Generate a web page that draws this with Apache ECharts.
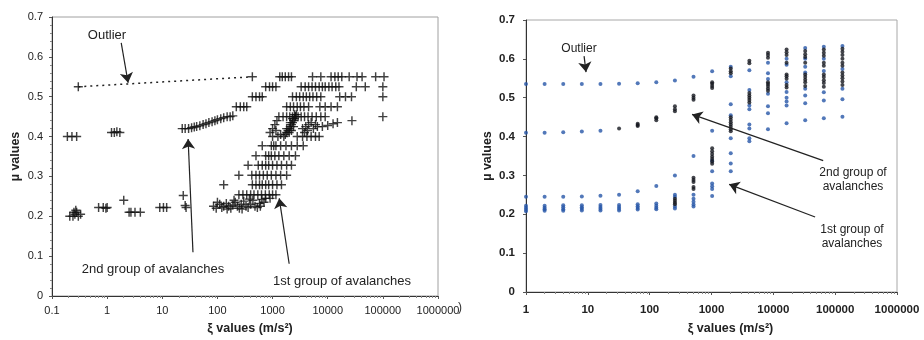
<!DOCTYPE html>
<html>
<head>
<meta charset="utf-8">
<script src="https://cdn.jsdelivr.net/npm/echarts@6/dist/echarts.min.js"></script>
<style>
  html, body { margin: 0; padding: 0; background: #fff; }
  #chart { width: 924px; height: 340px; }
</style>
</head>
<body>
<div id="chart"></div>
<script>
// ---- Left panel: xi / mu pairs for the avalanche runs ----
const leftOutlier = [[0.3, 0.525]];
const leftOutlierLink = [[0.3, 0.525], [430, 0.55]];

const leftLowGroup = [
  [0.21, 0.2], [0.24, 0.2], [0.26, 0.205], [0.28, 0.21], [0.3, 0.2], [0.33, 0.205], [0.25, 0.21], [0.27, 0.215],
  [0.7, 0.222], [0.85, 0.222], [0.95, 0.22], [1.0, 0.222],
  [2.0, 0.24], [2.5, 0.21], [2.7, 0.21], [3.2, 0.21], [4.0, 0.21],
  [9, 0.222], [10.5, 0.222], [12, 0.222],
  [24, 0.252], [26, 0.227], [27, 0.222]
];

const leftSecondGroup = [
  [0.19, 0.4], [0.23, 0.4], [0.28, 0.4],
  [1.2, 0.41], [1.35, 0.41], [1.5, 0.412], [1.7, 0.41],
  [23, 0.42], [26, 0.42], [30, 0.42], [34, 0.422], [38, 0.424], [42, 0.425], [48, 0.427], [55, 0.43],
  [62, 0.432], [70, 0.435], [80, 0.437], [90, 0.44], [100, 0.442], [115, 0.445], [130, 0.447], [150, 0.45],
  [170, 0.45], [190, 0.452],
  [220, 0.475], [260, 0.475], [300, 0.475], [340, 0.475],
  [430, 0.5], [500, 0.5], [580, 0.5], [650, 0.5],
  [750, 0.525], [880, 0.525], [1000, 0.525], [1150, 0.525],
  [430, 0.55], [1350, 0.55], [1500, 0.55], [1700, 0.55], [1950, 0.55], [2200, 0.55]
];

const leftFirstGroup = [
  // mu = 0.55
  [5300, 0.55], [7500, 0.55], [11500, 0.55], [13500, 0.55], [15500, 0.55], [18000, 0.55],
  [24500, 0.55], [34000, 0.55], [42000, 0.55], [74000, 0.55], [105000, 0.55],
  // mu = 0.525
  [3300, 0.525], [3900, 0.525], [4500, 0.525], [5200, 0.525], [6000, 0.525], [7000, 0.525], [8000, 0.525],
  [9000, 0.525], [10500, 0.525], [12000, 0.525], [14000, 0.525], [16000, 0.525], [33000, 0.525],
  [48000, 0.525], [100000, 0.525],
  // mu = 0.50
  [2300, 0.5], [2700, 0.5], [3100, 0.5], [3600, 0.5], [4100, 0.5], [4700, 0.5], [5400, 0.5], [6300, 0.5],
  [7500, 0.5], [16500, 0.5], [21000, 0.5], [27000, 0.5], [100000, 0.5],
  // mu = 0.475
  [1800, 0.475], [2100, 0.475], [2400, 0.475], [2800, 0.475], [3200, 0.475], [3700, 0.475], [4500, 0.475],
  [7200, 0.475], [9000, 0.475], [11500, 0.475], [15000, 0.475],
  // mu = 0.45
  [1300, 0.45], [1550, 0.45], [1800, 0.45], [2050, 0.45], [2300, 0.45], [2600, 0.45], [2900, 0.45],
  [3300, 0.45], [3800, 0.45], [4400, 0.45], [5200, 0.45], [6200, 0.45], [7500, 0.45], [9000, 0.45],
  [27500, 0.44], [100000, 0.45],
  // dense core 0.40 - 0.46
  [1700, 0.405], [1800, 0.41], [1900, 0.415], [2000, 0.42], [2100, 0.425], [2200, 0.43], [2300, 0.435],
  [2400, 0.44], [2500, 0.445], [2600, 0.45], [2700, 0.455], [2000, 0.41], [2200, 0.415], [2400, 0.425],
  [1800, 0.42], [2100, 0.435], [2300, 0.445], [2500, 0.455],
  [3500, 0.42], [4000, 0.425], [4500, 0.43], [5000, 0.435], [3800, 0.41], [4300, 0.415], [5500, 0.42],
  [6500, 0.425], [6000, 0.43],
  [8000, 0.425], [10000, 0.428], [12500, 0.432], [15000, 0.435],
  [900, 0.41], [1000, 0.42], [1100, 0.43], [1200, 0.44], [1000, 0.4], [1250, 0.4], [1400, 0.405], [1150, 0.415],
  [1600, 0.4], [2800, 0.4], [3500, 0.4], [4200, 0.4], [5000, 0.4], [6000, 0.4], [7000, 0.4],
  // mu = 0.375
  [650, 0.377], [950, 0.377], [1050, 0.377], [1150, 0.377], [1400, 0.377], [1750, 0.377], [2200, 0.377],
  [2800, 0.377], [3600, 0.377],
  // mu = 0.35
  [500, 0.352], [750, 0.352], [850, 0.352], [950, 0.352], [1100, 0.352], [1300, 0.352], [1600, 0.352],
  [2000, 0.352], [2600, 0.352],
  // mu = 0.325
  [360, 0.328], [550, 0.328], [650, 0.328], [750, 0.328], [850, 0.328], [1000, 0.328], [1200, 0.328],
  [1450, 0.328], [1800, 0.328], [2200, 0.328],
  // mu = 0.30
  [245, 0.303], [420, 0.303], [500, 0.303], [580, 0.303], [680, 0.303], [800, 0.303], [950, 0.303],
  [1150, 0.303], [1400, 0.303], [1800, 0.303],
  // mu = 0.275
  [130, 0.279], [430, 0.279], [500, 0.279], [580, 0.279], [650, 0.279], [750, 0.279], [850, 0.279],
  [1000, 0.279], [1200, 0.279], [1450, 0.279],
  // mu = 0.25
  [245, 0.254], [290, 0.254], [340, 0.254], [400, 0.254], [460, 0.254], [540, 0.254], [630, 0.254],
  [740, 0.254], [870, 0.254], [1000, 0.254], [1150, 0.254],
  // low band 0.22 - 0.245
  [85, 0.225], [95, 0.22], [110, 0.23], [120, 0.222], [130, 0.225], [145, 0.232], [160, 0.225], [175, 0.22],
  [190, 0.228], [210, 0.235], [230, 0.225], [250, 0.22], [270, 0.23], [300, 0.238], [330, 0.225], [360, 0.222],
  [400, 0.23], [440, 0.24], [480, 0.225], [530, 0.222], [580, 0.232], [640, 0.242], [700, 0.235], [100, 0.235],
  [150, 0.218], [200, 0.24], [280, 0.218], [380, 0.243], [600, 0.225], [750, 0.245], [900, 0.245]
];

// ---- Right panel: mu values computed for each xi step ----
const xiSteps = [1, 2, 4, 8, 16, 32, 64, 128, 256, 512, 1024, 2048, 4096, 8192, 16384, 32768, 65536, 131072];

const muBlue = [
  [0.535, 0.41, 0.245, 0.222, 0.217, 0.212, 0.208],
  [0.535, 0.41, 0.245, 0.222, 0.217, 0.213, 0.209],
  [0.535, 0.411, 0.245, 0.223, 0.218, 0.213, 0.209],
  [0.535, 0.413, 0.246, 0.223, 0.218, 0.214, 0.21],
  [0.535, 0.415, 0.248, 0.224, 0.219, 0.214, 0.21],
  [0.536, 0.25, 0.224, 0.219, 0.214, 0.21],
  [0.537, 0.259, 0.226, 0.221, 0.216, 0.212],
  [0.54, 0.273, 0.228, 0.222, 0.217, 0.213],
  [0.544, 0.30, 0.25, 0.245, 0.22, 0.215],
  [0.554, 0.35, 0.25, 0.24, 0.232, 0.225, 0.22],
  [0.568, 0.415, 0.338, 0.311, 0.279, 0.272, 0.265, 0.247],
  [0.58, 0.555, 0.483, 0.455, 0.396, 0.357, 0.331, 0.311],
  [0.571, 0.52, 0.48, 0.47, 0.431, 0.421, 0.396, 0.388],
  [0.59, 0.563, 0.548, 0.51, 0.478, 0.46, 0.419],
  [0.6, 0.585, 0.54, 0.515, 0.5, 0.49, 0.48, 0.434],
  [0.628, 0.6, 0.58, 0.565, 0.523, 0.506, 0.486, 0.442],
  [0.631, 0.6, 0.569, 0.514, 0.493, 0.447],
  [0.633, 0.574, 0.523, 0.496, 0.451]
];

const muBlack = [
  [],
  [],
  [],
  [],
  [],
  [0.421],
  [0.427, 0.43, 0.433],
  [0.442, 0.447, 0.45],
  [0.465, 0.47, 0.478, 0.24, 0.235, 0.23, 0.226],
  [0.495, 0.5, 0.506, 0.294, 0.288, 0.283, 0.27, 0.265],
  [0.525, 0.53, 0.536, 0.54, 0.37, 0.362, 0.355, 0.348, 0.342, 0.336, 0.33],
  [0.575, 0.568, 0.563, 0.45, 0.443, 0.437, 0.431, 0.425, 0.419, 0.414],
  [0.595, 0.589, 0.512, 0.506, 0.5, 0.494, 0.488],
  [0.616, 0.61, 0.603, 0.54, 0.535, 0.53, 0.524, 0.518],
  [0.624, 0.617, 0.61, 0.59, 0.56, 0.555, 0.549, 0.533, 0.526],
  [0.62, 0.612, 0.605, 0.59, 0.56, 0.553, 0.546, 0.54, 0.53],
  [0.624, 0.616, 0.608, 0.59, 0.582, 0.56, 0.553, 0.545, 0.538, 0.528],
  [0.626, 0.618, 0.61, 0.6, 0.59, 0.582, 0.565, 0.557, 0.55, 0.542, 0.533]
];

// Annotation arrows, in data coordinates [xi, mu] (start -> head)
const leftArrows = [
  [[1.8, 0.635], [2.4, 0.535]],
  [[36, 0.11], [29.4, 0.394]],
  [[2000, 0.081], [1320, 0.245]]
];
const rightArrows = [
  [[8.7, 0.607], [9.35, 0.566]],
  [[64000, 0.338], [485, 0.457]],
  [[47400, 0.193], [1930, 0.277]]
];

const xTickLabels = ['0.1', '1', '10', '100', '1000', '10000', '100000', '1000000'];
const yTickLabels = ['0', '0.1', '0.2', '0.3', '0.4', '0.5', '0.6', '0.7'];

// ---- build ----
function columnsToPoints(cols) {
  const pts = [];
  cols.forEach((col, i) => col.forEach(v => pts.push([xiSteps[i], v])));
  return pts;
}

const FONT = '"Liberation Sans", Arial, Helvetica, sans-serif';
const PLUS = 'path://M0,42H100V58H0Z M42,0H58V100H42Z';

function fmtX(v) {
  const s = Number(Number(v).toPrecision(6));
  const idx = Math.round(Math.log10(s)) + 1;
  return xTickLabels[idx] !== undefined ? xTickLabels[idx] : String(s);
}
function fmtY(v) {
  const idx = Math.round(v * 10);
  return yTickLabels[idx] !== undefined ? yTickLabels[idx] : String(v);
}

function xAxisCfg(grid, min, bold, labelMargin, nameGap, namePadLeft) {
  return {
    gridIndex: grid, type: 'log', logBase: 10, min: min, max: 1000000,
    axisLine: { show: true, lineStyle: { color: '#333', width: 1 } },
    axisTick: { show: true, length: 3, inside: false, lineStyle: { color: '#555' } },
    minorTick: { show: true, splitNumber: 9, length: 2, lineStyle: { color: '#888' } },
    splitLine: { show: false },
    axisLabel: { formatter: fmtX, color: '#222', fontFamily: FONT, fontSize: bold ? 11.5 : 11,
      fontWeight: bold ? 'bold' : 'normal', margin: labelMargin, showMinLabel: true, showMaxLabel: true },
    name: 'ξ values (m/s²)', nameLocation: 'middle', nameGap: nameGap,
    nameTextStyle: { color: '#222', fontFamily: FONT, fontSize: 12.5, fontWeight: 'bold', padding: [0, 0, 0, namePadLeft] }
  };
}
function yAxisCfg(grid, bold, labelMargin, nameGap, minor) {
  return {
    gridIndex: grid, type: 'value', min: 0, max: 0.7, interval: 0.1,
    axisLine: { show: true, lineStyle: { color: '#333', width: 1 } },
    axisTick: { show: true, length: 3, lineStyle: { color: '#555' } },
    minorTick: { show: minor, splitNumber: 5, length: 2, lineStyle: { color: '#888' } },
    splitLine: { show: false },
    axisLabel: { formatter: fmtY, color: '#222', fontFamily: FONT, fontSize: bold ? 11.5 : 11,
      fontWeight: bold ? 'bold' : 'normal', margin: labelMargin },
    name: 'µ values', nameLocation: 'middle', nameGap: nameGap,
    nameTextStyle: { color: '#222', fontFamily: FONT, fontSize: 12.5, fontWeight: 'bold' }
  };
}

function arrowSeries(idx, arrows) {
  return {
    type: 'lines', coordinateSystem: 'cartesian2d', xAxisIndex: idx, yAxisIndex: idx,
    symbol: ['none', 'arrow'], symbolSize: [0, 10], silent: true, z: 5,
    lineStyle: { color: '#222', width: 1.2, opacity: 1 },
    data: arrows.map(a => ({ coords: a }))
  };
}

function plusSeries(data) {
  return {
    type: 'scatter', xAxisIndex: 0, yAxisIndex: 0, symbol: PLUS, symbolSize: 9,
    itemStyle: { color: '#111' }, data: data, z: 3
  };
}

// Centered annotation text placed at (x, y)
const txt = (x, y, s, size) => ({
  type: 'text', x: x, y: y, z: 10,
  style: { text: s, fill: '#222', font: size + 'px ' + FONT, align: 'center', verticalAlign: 'middle', lineHeight: 14 }
});

const chart = echarts.init(document.getElementById('chart'), null, { renderer: 'canvas' });
chart.setOption({
  animation: false,
  backgroundColor: '#fff',
  grid: [
    { left: 52, top: 17, width: 386, height: 286, show: true, borderColor: '#a0a0a0', borderWidth: 1, backgroundColor: '#fff' },
    { left: 526, top: 20, width: 371, height: 276, show: true, borderColor: '#a8a8a8', borderWidth: 1, backgroundColor: '#fff' }
  ],
  xAxis: [xAxisCfg(0, 0.1, false, 9, 26, 10), xAxisCfg(1, 1, true, 12, 30, 38)],
  yAxis: [yAxisCfg(0, false, 9, 30, true), yAxisCfg(1, true, 11, 32, false)],
  series: [
    {
      type: 'line', xAxisIndex: 0, yAxisIndex: 0, data: leftOutlierLink, showSymbol: false, symbol: 'none',
      lineStyle: { color: '#222', width: 1.5, type: [2, 4] }, z: 2
    },
    plusSeries(leftLowGroup),
    plusSeries(leftSecondGroup),
    plusSeries(leftFirstGroup),
    plusSeries(leftOutlier),
    arrowSeries(0, leftArrows),
    {
      type: 'scatter', xAxisIndex: 1, yAxisIndex: 1, symbol: 'circle', symbolSize: 4,
      itemStyle: { color: '#2756a8' }, data: columnsToPoints(muBlue), z: 3
    },
    {
      type: 'scatter', xAxisIndex: 1, yAxisIndex: 1, symbol: 'circle', symbolSize: 4,
      itemStyle: { color: '#15181f' }, data: columnsToPoints(muBlack), z: 4
    },
    arrowSeries(1, rightArrows)
  ],
  graphic: [
    txt(107, 35, 'Outlier', 13),
    txt(153, 269, '2nd group of avalanches', 13),
    txt(342, 281, '1st group of avalanches', 13),
    txt(579, 49, 'Outlier', 12),
    txt(853, 180, '2nd group of\navalanches', 12),
    txt(852, 237, '1st group of\navalanches', 12),
    { type: 'text', x: 458, y: 302, style: { text: ')', fill: '#333', font: '12px ' + FONT } }
  ]
});
</script>
</body>
</html>
